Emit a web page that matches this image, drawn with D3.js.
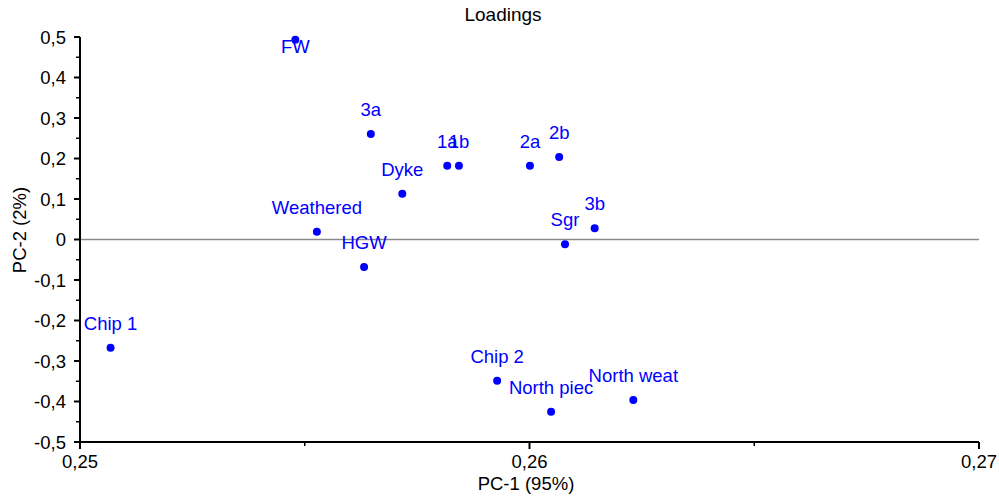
<!DOCTYPE html>
<html>
<head>
<meta charset="utf-8">
<script src="https://cdn.jsdelivr.net/npm/d3@7"></script>
<style>
    body { margin: 0; background: #fff; }
    text { font-family: "Liberation Sans", Arial, sans-serif; }
</style>
</head>
<body>
<script>
var width = 999;
var height = 499;

// loadings
var names = ["FW", "3a", "1a", "1b", "2a", "2b", "Dyke", "Weathered", "HGW", "Sgr", "3b",
    "Chip 1", "Chip 2", "North piec", "North weat"];
var pc1 = [0.25479, 0.25647, 0.25817, 0.25843, 0.26001, 0.26066, 0.25717, 0.25527, 0.25632, 0.26079, 0.26145,
    0.25068, 0.25928, 0.26048, 0.26231];
var pc2 = [0.493, 0.2605, 0.182, 0.182, 0.182, 0.2035, 0.113, 0.019, -0.068, -0.012, 0.0275,
    -0.267, -0.3485, -0.425, -0.396];

var xTicks = [0.25, 0.26, 0.27];
var xMinorTicks = [0.255, 0.265];
var yTicks = [-0.5, -0.4, -0.3, -0.2, -0.1, 0, 0.1, 0.2, 0.3, 0.4, 0.5];
var yMinorTicks = [-0.45, -0.35, -0.25, -0.15, -0.05, 0.05, 0.15, 0.25, 0.35, 0.45];
var xTickLabels = ["0,25", "0,26", "0,27"];
var yTickLabels = ["-0,5", "-0,4", "-0,3", "-0,2", "-0,1", "0", "0,1", "0,2", "0,3", "0,4", "0,5"];

var svg = d3.select("body")
    .append("svg")
    .attr("width", width)
    .attr("height", height);

var x = d3.scaleLinear().domain([0.25, 0.27]).range([80, 979]);
var y = d3.scaleLinear().domain([-0.5, 0.5]).range([442, 37]);

svg.append("text")
    .attr("x", 503)
    .attr("y", 21)
    .attr("text-anchor", "middle")
    .style("font-size", "19px")
    .text("Loadings");

// zero line
svg.append("line")
    .attr("x1", x(0.25)).attr("x2", x(0.27))
    .attr("y1", y(0)).attr("y2", y(0))
    .attr("stroke", "#8a8a8a")
    .attr("stroke-width", 1.5);

// y axis
var gy = svg.append("g").attr("transform", "translate(" + x(0.25) + ",0)");
gy.append("line")
    .attr("y1", y(-0.5)).attr("y2", y(0.5))
    .attr("stroke", "#000").attr("stroke-width", 2);
gy.selectAll("line.major")
    .data(yTicks).enter().append("line")
    .attr("class", "major")
    .attr("x1", -6).attr("x2", 0)
    .attr("y1", function (d) { return y(d); })
    .attr("y2", function (d) { return y(d); })
    .attr("stroke", "#000").attr("stroke-width", 2);
gy.selectAll("line.minor")
    .data(yMinorTicks).enter().append("line")
    .attr("class", "minor")
    .attr("x1", -4).attr("x2", 0)
    .attr("y1", function (d) { return y(d); })
    .attr("y2", function (d) { return y(d); })
    .attr("stroke", "#000").attr("stroke-width", 1.5);
gy.selectAll("text")
    .data(yTicks).enter().append("text")
    .attr("x", -14)
    .attr("y", function (d) { return y(d); })
    .attr("dy", "0.36em")
    .attr("text-anchor", "end")
    .style("font-size", "18.5px")
    .text(function (d, i) { return yTickLabels[i]; });

// x axis
var gx = svg.append("g").attr("transform", "translate(0," + y(-0.5) + ")");
gx.append("line")
    .attr("x1", x(0.25)).attr("x2", x(0.27))
    .attr("stroke", "#000").attr("stroke-width", 2);
gx.selectAll("line.major")
    .data(xTicks).enter().append("line")
    .attr("class", "major")
    .attr("x1", function (d) { return x(d); })
    .attr("x2", function (d) { return x(d); })
    .attr("y1", 0).attr("y2", 7)
    .attr("stroke", "#000").attr("stroke-width", 2);
gx.selectAll("line.minor")
    .data(xMinorTicks).enter().append("line")
    .attr("class", "minor")
    .attr("x1", function (d) { return x(d); })
    .attr("x2", function (d) { return x(d); })
    .attr("y1", 0).attr("y2", 4)
    .attr("stroke", "#000").attr("stroke-width", 1.5);
gx.selectAll("text")
    .data(xTicks).enter().append("text")
    .attr("x", function (d) { return x(d); })
    .attr("y", 26)
    .attr("text-anchor", "middle")
    .style("font-size", "18.5px")
    .text(function (d, i) { return xTickLabels[i]; })
    .each(function () {
        // keep the last label inside the window like the original
        var w = this.getComputedTextLength();
        var cx = +d3.select(this).attr("x");
        if (cx + w / 2 > width - 1) {
            d3.select(this).attr("x", width - 1 - w / 2);
        }
    });

svg.append("text")
    .attr("x", 526)
    .attr("y", 490)
    .attr("text-anchor", "middle")
    .style("font-size", "18.5px")
    .text("PC-1 (95%)");

svg.append("text")
    .attr("transform", "translate(26,230) rotate(-90)")
    .attr("text-anchor", "middle")
    .style("font-size", "18.5px")
    .text("PC-2 (2%)");

// points and their labels
var idx = d3.range(names.length);

svg.append("g")
    .selectAll("circle")
    .data(idx).enter().append("circle")
    .attr("cx", function (i) { return x(pc1[i]); })
    .attr("cy", function (i) { return y(pc2[i]); })
    .attr("r", 4)
    .attr("fill", "#0000ff");

svg.append("g")
    .selectAll("text")
    .data(idx).enter().append("text")
    .attr("x", function (i) { return x(pc1[i]); })
    .attr("y", function (i) { return Math.max(y(pc2[i]) - 18, y(0.5) + 16); })
    .attr("text-anchor", "middle")
    .attr("fill", "#0000ff")
    .style("font-size", "18.5px")
    .text(function (i) { return names[i]; });
</script>
</body>
</html>
